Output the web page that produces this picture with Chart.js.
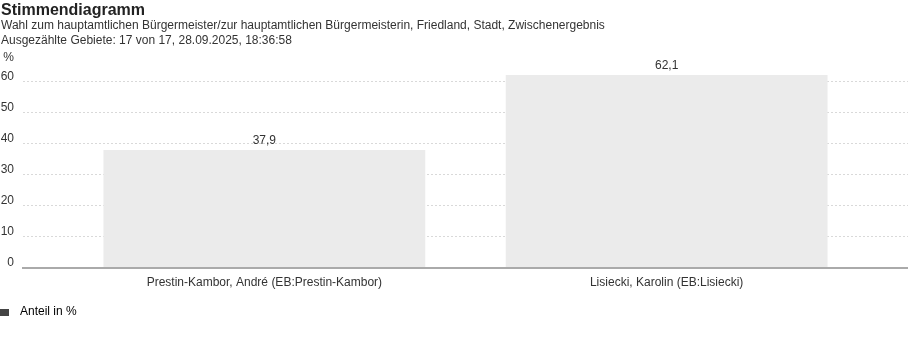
<!DOCTYPE html>
<html lang="de">
<head>
<meta charset="utf-8">
<title>Stimmendiagramm</title>
<script src="https://cdn.jsdelivr.net/npm/chart.js@4.4.1/dist/chart.umd.min.js"></script>
<style>
    html, body { margin: 0; padding: 0; background: #fff; }
    #wrap { position: relative; width: 908px; height: 352px; }
</style>
</head>
<body>
<div id="wrap"><canvas id="stimmenChart"></canvas></div>
<script>
// Daten
const candidates = ['Prestin-Kambor, André (EB:Prestin-Kambor)', 'Lisiecki, Karolin (EB:Lisiecki)'];
const shares = [37.9, 62.1];
const yTicks = [0, 10, 20, 30, 40, 50, 60];
const yTop = 66; // oberster Tick, trägt die Einheit "%"

const titleText = 'Stimmendiagramm';
const subtitleLines = [
    'Wahl zum hauptamtlichen Bürgermeister/zur hauptamtlichen Bürgermeisterin, Friedland, Stadt, Zwischenergebnis',
    'Ausgezählte Gebiete: 17 von 17, 28.09.2025, 18:36:58'
];
const legendLabel = 'Anteil in %';

const baseFont = 'Arial, "Liberation Sans", sans-serif';
Chart.defaults.font.family = baseFont;
Chart.defaults.font.size = 12;
Chart.defaults.color = '#333';

function fmt(v) {
    return v.toFixed(1).replace('.', ',');
}

// kleines Kästchen für die Legende (9px Fläche, Rest leer als Abstand)
function legendSwatch() {
    const c = document.createElement('canvas');
    c.width = 14;
    c.height = 7;
    const g = c.getContext('2d');
    g.fillStyle = '#444';
    g.fillRect(0, 0, 9, 7);
    return c;
}

// Überschrift oben links
const header = {
    id: 'header',
    afterDraw(chart) {
        const ctx = chart.ctx;
        ctx.save();
        ctx.textAlign = 'left';
        ctx.textBaseline = 'alphabetic';
        ctx.fillStyle = '#222';
        ctx.font = 'bold 16px ' + baseFont;
        ctx.fillText(titleText, 1, 14.5);
        ctx.fillStyle = '#333';
        ctx.font = '12px ' + baseFont;
        subtitleLines.forEach((line, i) => {
            ctx.fillText(line, 1, 29 + i * 15);
        });
        ctx.restore();
    }
};

// Werte über den Balken
const valueLabels = {
    id: 'valueLabels',
    afterDatasetsDraw(chart) {
        const ctx = chart.ctx;
        const meta = chart.getDatasetMeta(0);
        ctx.save();
        ctx.font = '12px ' + baseFont;
        ctx.fillStyle = '#333';
        ctx.textAlign = 'center';
        ctx.textBaseline = 'middle';
        meta.data.forEach((bar, i) => {
            ctx.fillText(fmt(shares[i]), bar.x, bar.y - 9);
        });
        ctx.restore();
    }
};

const swatch = legendSwatch();

new Chart(document.getElementById('stimmenChart'), {
    type: 'bar',
    data: {
        datasets: [{
            label: legendLabel,
            data: candidates.map((c, i) => ({ x: i, y: shares[i] })),
            backgroundColor: '#ebebeb',
            borderWidth: 0,
            barPercentage: 1,
            categoryPercentage: 0.8
        }]
    },
    options: {
        responsive: true,
        maintainAspectRatio: false,
        animation: false,
        layout: { padding: { left: 0, right: 0, top: 63, bottom: 24 } },
        scales: {
            x: {
                type: 'linear',
                offset: false,
                min: -0.6,
                max: 1.6,
                afterBuildTicks: scale => {
                    scale.ticks = candidates.map((c, i) => ({ value: i }));
                },
                afterFit: scale => { scale.height += 8; },
                ticks: {
                    padding: 8,
                    color: '#333',
                    callback: value => candidates[value]
                },
                grid: { display: false, drawTicks: false },
                border: { display: true, color: '#aaa', width: 2 }
            },
            y: {
                min: 0,
                max: yTop,
                afterBuildTicks: scale => {
                    scale.ticks = yTicks.concat([yTop]).map(v => ({ value: v }));
                },
                afterFit: scale => { scale.width = 23; },
                ticks: {
                    padding: 9,
                    labelOffset: -5,
                    color: '#333',
                    callback: value => value === yTop ? '%' : value
                },
                grid: {
                    drawTicks: false,
                    color: ctx => (ctx.tick && (ctx.tick.value === 0 || ctx.tick.value === yTop)) ? 'rgba(0,0,0,0)' : '#d9d9d9',
                    lineWidth: 1
                },
                border: { display: false, dash: [2, 2] }
            }
        },
        plugins: {
            title: { display: false },
            legend: {
                display: true,
                position: 'bottom',
                align: 'start',
                labels: {
                    padding: 0,
                    usePointStyle: true,
                    pointStyleWidth: 14,
                    color: '#333',
                    generateLabels: () => [{
                        text: legendLabel,
                        fillStyle: '#444',
                        strokeStyle: '#444',
                        lineWidth: 0,
                        pointStyle: swatch,
                        datasetIndex: 0
                    }]
                }
            },
            tooltip: { enabled: false }
        }
    },
    plugins: [header, valueLabels]
});
</script>
</body>
</html>
